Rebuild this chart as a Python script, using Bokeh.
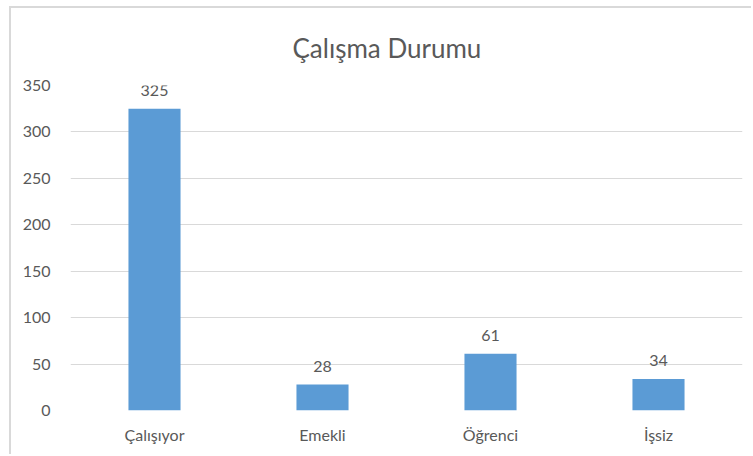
from bokeh.plotting import figure
from bokeh.models import ColumnDataSource, LabelSet, FactorRange, Range1d, SingleIntervalTicker
from bokeh.core.properties import value
from bokeh.embed import file_html
from bokeh.resources import INLINE

categories = ["Çalışıyor", "Emekli", "Öğrenci", "İşsiz"]
counts = [325, 28, 61, 34]
title_text = "Çalışma Durumu"

FONT = "Lato"
GRAY = "#595959"

src = ColumnDataSource(dict(cat=categories, val=counts, lbl=[str(v) for v in counts]))

p = figure(width=742, height=448, output_backend="svg", toolbar_location=None,
           x_range=FactorRange(factors=categories, range_padding=0),
           y_range=Range1d(0, 350),
           min_border_left=59, min_border_right=11, min_border_top=77, min_border_bottom=46)
p.styles = {"margin-left": "9px", "margin-top": "6px",
            "border-left": "2px solid #d9d9d9", "border-top": "2px solid #d9d9d9"}

p.vbar(x="cat", top="val", width=0.31, source=src, color="#5b9bd5", line_color=None)

labels = LabelSet(x="cat", y="val", text="lbl", source=src, y_offset=13,
                  text_align="center", text_baseline="alphabetic",
                  text_font=value(FONT), text_font_size="16px", text_color=GRAY)
p.add_layout(labels)

p.title.text = title_text
p.title.align = "left"
p.title.offset = 222
p.title.standoff = 43
p.title.text_font = FONT
p.title.text_font_size = "26px"
p.title.text_font_style = "normal"
p.title.text_color = GRAY

p.outline_line_color = None
p.xgrid.grid_line_color = None
p.ygrid.grid_line_color = "#d9d9d9"
p.ygrid.grid_line_width = 1
p.yaxis.ticker = SingleIntervalTicker(interval=50)

for ax in (p.xaxis, p.yaxis):
    ax.axis_line_color = None
    ax.major_tick_line_color = None
    ax.minor_tick_line_color = None
    ax.major_label_text_font = FONT
    ax.major_label_text_font_size = "16px"
    ax.major_label_text_color = GRAY
p.yaxis.major_label_standoff = 14
p.xaxis.major_label_standoff = 8

open("out.html", "w").write(file_html(p, INLINE))
